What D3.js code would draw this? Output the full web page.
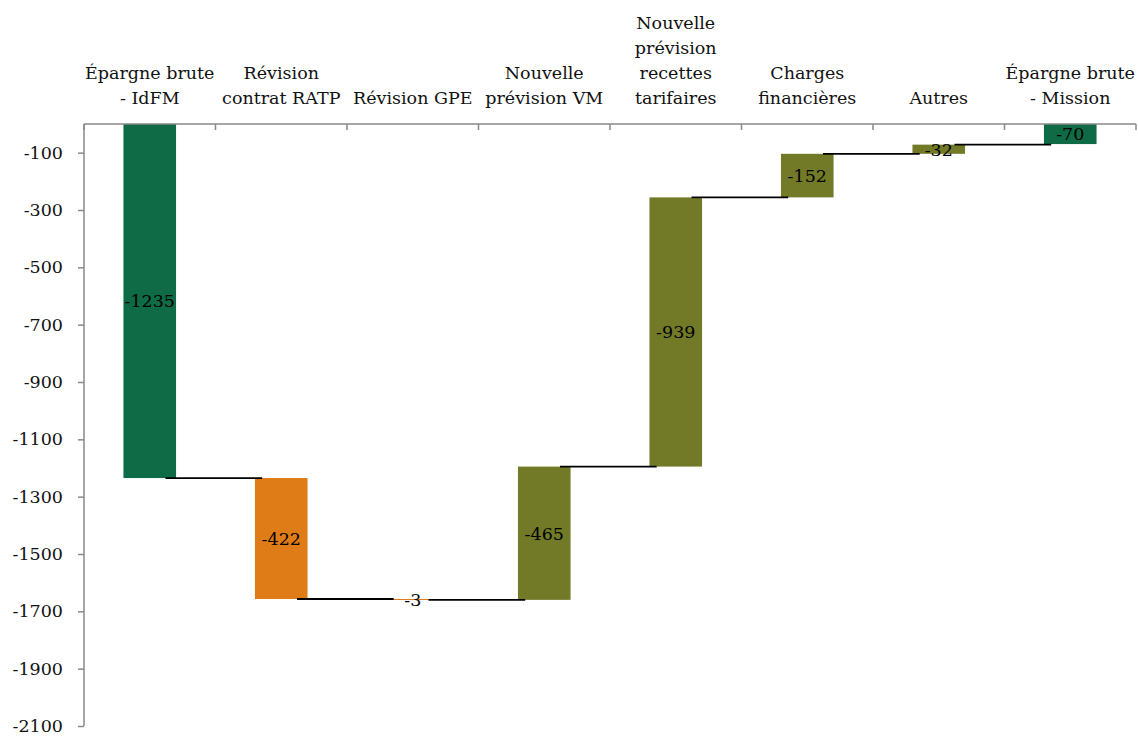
<!DOCTYPE html>
<html>
<head>
<meta charset="utf-8">
<script src="https://cdn.jsdelivr.net/npm/d3@7"></script>
<style>
  html, body { margin: 0; padding: 0; background: #fff; }
  svg { display: block; }
  text { font-family: "DejaVu Serif", "Liberation Serif", serif; }
</style>
</head>
<body>
<svg id="chart" width="1138" height="736"></svg>
<script>
// ---- data ----
const categories = [
  "Épargne brute\n- IdFM",
  "Révision\ncontrat RATP",
  "Révision GPE",
  "Nouvelle\nprévision VM",
  "Nouvelle\nprévision\nrecettes\ntarifaires",
  "Charges\nfinancières",
  "Autres",
  "Épargne brute\n- Mission"
];
// signed change of each step (totals start from 0)
const steps = [-1235, -422, -3, 465, 939, 152, 32, -70];
const isTotal = [true, false, false, false, false, false, false, true];
// values printed on the bars
const labelValues = ["-1235", "-422", "-3", "-465", "-939", "-152", "-32", "-70"];
const yTicks = [-100, -300, -500, -700, -900, -1100, -1300, -1500, -1700, -1900, -2100];

const colTotal = "#0E6B45", colDown = "#E07C18", colUp = "#737A27";

// ---- build bar spans ----
let running = 0;
const bars = categories.map((c, i) => {
  let start, end;
  if (isTotal[i]) { start = 0; end = steps[i]; }
  else { start = running; end = running + steps[i]; }
  running = end;
  return { cat: c, start, end, label: labelValues[i],
           color: isTotal[i] ? colTotal : (steps[i] < 0 ? colDown : colUp) };
});

const svg = d3.select("#chart");
const x = d3.scaleBand().domain(categories).range([84, 1136]).paddingInner(0.6).paddingOuter(0.3);
const y = d3.scaleLinear().domain([0, -2100]).range([124, 726]);
const step = x.step();
const cx = c => x(c) + x.bandwidth() / 2;

// bars
svg.append("g").selectAll("rect").data(bars).join("rect")
  .attr("x", d => x(d.cat))
  .attr("width", x.bandwidth())
  .attr("y", d => Math.min(y(d.start), y(d.end)))
  .attr("height", d => Math.max(1, Math.abs(y(d.start) - y(d.end))))
  .attr("fill", d => d.color);

// connectors
const conns = bars.slice(0, -1).map((d, i) => ({ from: d.cat, to: bars[i + 1].cat, level: d.end }));
svg.append("g").selectAll("line").data(conns).join("line")
  .attr("x1", d => cx(d.from) + 0.12 * step)
  .attr("x2", d => cx(d.to) - 0.145 * step)
  .attr("y1", d => y(d.level))
  .attr("y2", d => y(d.level))
  .attr("stroke", "#000")
  .attr("stroke-width", 1.8);

// y axis
const yAxis = svg.append("g").attr("transform", "translate(84,0)")
  .call(d3.axisLeft(y).tickValues(yTicks).tickSize(6).tickPadding(15).tickFormat(d => String(d)));
yAxis.select(".domain").attr("stroke", "#898989").attr("stroke-width", 1.5).attr("d", `M0,${y(0)}V${y(-2100)}`);
yAxis.selectAll(".tick line").attr("stroke", "#898989").attr("stroke-width", 1.5);
yAxis.selectAll(".tick text").attr("font-size", 17.5).attr("fill", "#111")
  .attr("font-family", "DejaVu Serif");

// top category axis
const gTop = svg.append("g");
gTop.append("line").attr("x1", x.range()[0]).attr("x2", x.range()[1])
  .attr("y1", y(0)).attr("y2", y(0)).attr("stroke", "#898989").attr("stroke-width", 1.5);
const bounds = d3.range(categories.length + 1).map(i => x.range()[0] + i * step);
gTop.selectAll("line.tk").data(bounds).join("line").attr("class", "tk")
  .attr("x1", d => d).attr("x2", d => d)
  .attr("y1", y(0)).attr("y2", y(0) + 6)
  .attr("stroke", "#898989").attr("stroke-width", 1.5);

// category labels (bottom-aligned above the axis)
const lineH = 25, lastBase = 104;
categories.forEach(c => {
  const lines = c.split("\n");
  const t = svg.append("text").attr("text-anchor", "middle").attr("font-size", 17.5).attr("fill", "#111");
  lines.forEach((ln, j) => {
    t.append("tspan").attr("x", cx(c)).attr("y", lastBase - (lines.length - 1 - j) * lineH).text(ln);
  });
});

// value labels
svg.append("g").selectAll("text").data(bars).join("text")
  .attr("x", d => cx(d.cat))
  .attr("y", d => (y(d.start) + y(d.end)) / 2)
  .attr("dy", "0.36em")
  .attr("text-anchor", "middle")
  .attr("font-size", 17.5)
  .attr("fill", "#000")
  .text(d => d.label);
</script>
</body>
</html>
